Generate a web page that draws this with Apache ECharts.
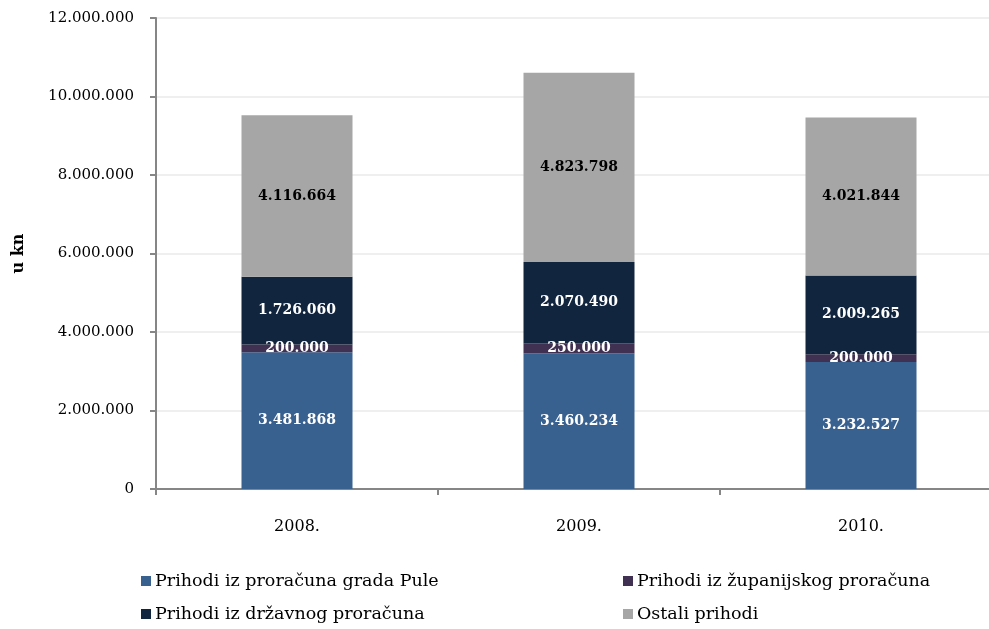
<!DOCTYPE html>
<html>
<head>
<meta charset="utf-8">
<script src="https://cdn.jsdelivr.net/npm/echarts@6/dist/echarts.min.js"></script>
<style>html,body{margin:0;padding:0;background:#fff;}#c{width:989px;height:629px;}</style>
</head>
<body>
<div id="c"></div>
<script>
const categories = ['2008.', '2009.', '2010.'];
const seriesNames = ['Prihodi iz proračuna grada Pule', 'Prihodi iz županijskog proračuna', 'Prihodi iz državnog proračuna', 'Ostali prihodi'];
const gradPule = [3481868, 3460234, 3232527];
const zupanijski = [200000, 250000, 200000];
const drzavni = [1726060, 2070490, 2009265];
const ostali = [4116664, 4823798, 4021844];
const yTicks = [0, 2000000, 4000000, 6000000, 8000000, 10000000, 12000000];

const FONT = 'DejaVu Serif';
function fmt(v) { return String(v).replace(/\B(?=(\d{3})+(?!\d))/g, '.'); }

const colors = ['#386190', '#403152', '#12253F', '#A6A6A6'];
const labelColors = ['#ffffff', '#ffffff', '#ffffff', '#000000'];
const values = [gradPule, zupanijski, drzavni, ostali];

const chart = echarts.init(document.getElementById('c'), null, {renderer: 'canvas'});
chart.setOption({
  animation: false,
  textStyle: {fontFamily: FONT},
  grid: {left: 156, top: 18, right: -690, height: 471, width: 846, containLabel: false, outerBoundsMode: 'none'},
  legend: [
    {left: 136, top: 567, orient: 'vertical', itemWidth: 10, itemHeight: 10, itemGap: 15, icon: 'rect',
     data: [seriesNames[0], seriesNames[2]], textStyle: {fontFamily: FONT, fontSize: 17.5, color: '#000', padding: [0, 0, 0, -1]}},
    {left: 618, top: 567, orient: 'vertical', itemWidth: 10, itemHeight: 10, itemGap: 15, icon: 'rect',
     data: [seriesNames[1], seriesNames[3]], textStyle: {fontFamily: FONT, fontSize: 17.5, color: '#000', padding: [0, 0, 0, -1]}}
  ],
  xAxis: {
    type: 'category', data: categories,
    axisLine: {lineStyle: {color: '#868686', width: 2}},
    axisTick: {show: true, length: 6, lineStyle: {color: '#868686', width: 2}},
    axisLabel: {fontFamily: FONT, fontSize: 16, color: '#000', margin: 30}
  },
  yAxis: {
    type: 'value', min: yTicks[0], max: yTicks[yTicks.length - 1], interval: 2000000,
    name: 'u kn', nameLocation: 'middle', nameGap: 129, nameRotate: 90,
    nameTextStyle: {fontFamily: FONT, fontSize: 16, fontWeight: 'bold', color: '#000'},
    axisLine: {show: true, lineStyle: {color: '#868686', width: 2}},
    axisTick: {show: true, length: 6, lineStyle: {color: '#868686', width: 2}},
    splitLine: {lineStyle: {color: '#EFEFEF', width: 2}},
    axisLabel: {fontFamily: FONT, fontSize: 15, color: '#000', margin: 22, formatter: v => fmt(v)}
  },
  series: seriesNames.map((n, i) => ({
    name: n, type: 'bar', stack: 'total', data: values[i], barWidth: 111,
    itemStyle: {color: colors[i]},
    label: {show: true, position: 'inside', formatter: p => fmt(p.value),
      fontFamily: FONT, fontSize: 14, fontWeight: 'bold', color: labelColors[i]}
  }))
});
</script>
</body>
</html>
